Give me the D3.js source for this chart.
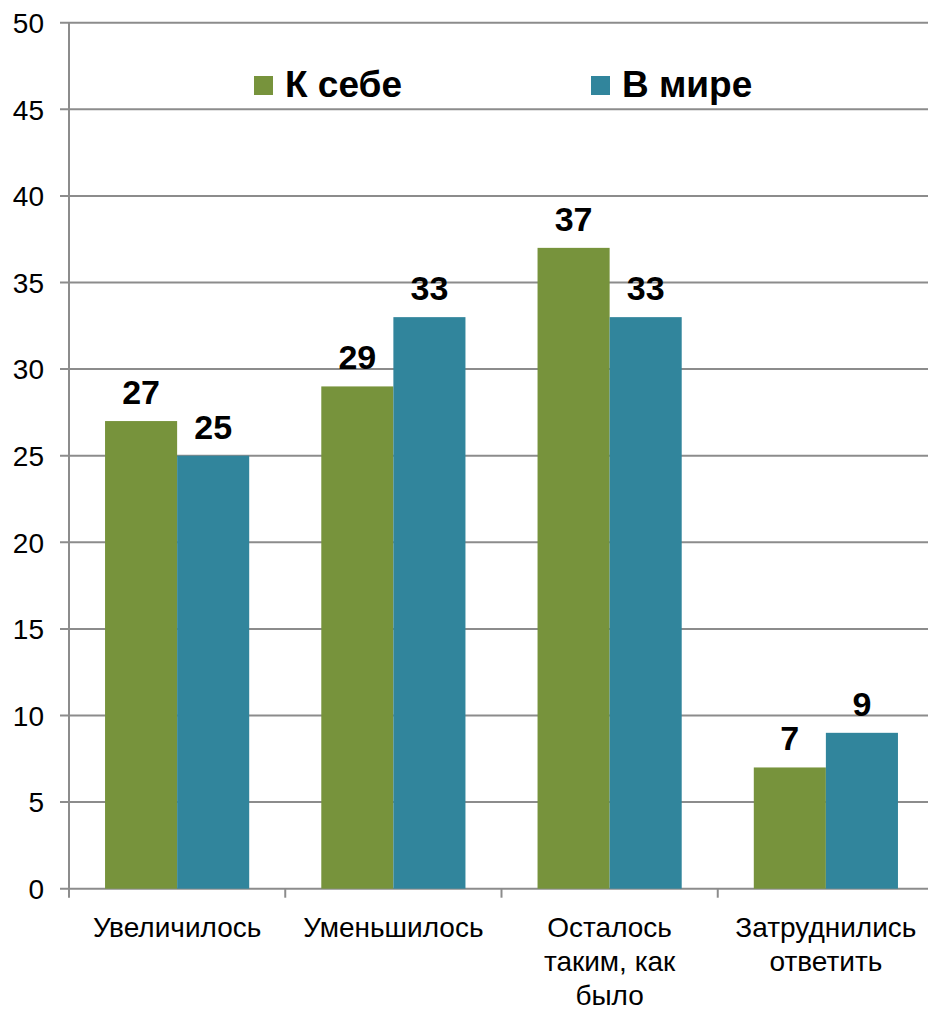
<!doctype html>
<html>
<head>
  <meta charset="utf-8">
  <script src="https://cdnjs.cloudflare.com/ajax/libs/d3/7.8.5/d3.min.js"></script>
  <style>
    body { margin: 0; background: #fff; }
    svg { display: block; font-family: "Liberation Sans", Arial, sans-serif; }
  </style>
</head>
<body>
  <svg id="chart" width="928" height="1010"></svg>
  <script>
    var categories = ["Увеличилось", "Уменьшилось", "Осталось\nтаким, как\nбыло", "Затруднились\nответить"];
    var series = ["К себе", "В мире"];
    var selfValues = [27, 29, 37, 7];
    var worldValues = [25, 33, 33, 9];
    var yTicks = [0, 5, 10, 15, 20, 25, 30, 35, 40, 45, 50];
    var colors = ["#77933c", "#31859c"];

    var svg = d3.select("#chart");
    var plotLeft = 69, plotRight = 934, plotTop = 22.7, plotBottom = 888.7;

    var x0 = d3.scaleBand().domain(categories).range([plotLeft, plotRight]).padding(0);
    var x1 = d3.scaleBand().domain(series).range([0, x0.bandwidth()]).paddingInner(0).paddingOuter(0.5);
    var y = d3.scaleLinear().domain([0, 50]).range([plotBottom, plotTop]);

    var rows = categories.map((c, i) => ({cat: c, vals: [selfValues[i], worldValues[i]]}));

    // grid lines + y ticks
    svg.append("g")
      .selectAll("line")
      .data(yTicks)
      .enter().append("line")
      .attr("x1", plotLeft - 9).attr("x2", plotRight)
      .attr("y1", d => y(d)).attr("y2", d => y(d))
      .attr("stroke", "#8c8c8c").attr("stroke-width", 2);

    svg.append("g")
      .selectAll("text")
      .data(yTicks)
      .enter().append("text")
      .attr("x", 44).attr("y", d => y(d))
      .attr("dy", "0.37em")
      .attr("text-anchor", "end")
      .style("font-size", "28px")
      .text(d => d);

    // bars
    var groups = svg.append("g")
      .selectAll("g")
      .data(rows)
      .enter().append("g")
      .attr("transform", d => `translate(${x0(d.cat)},0)`);

    groups.selectAll("rect")
      .data(d => d.vals.map((v, j) => ({s: series[j], v: v, j: j})))
      .enter().append("rect")
      .attr("x", d => x1(d.s))
      .attr("width", x1.bandwidth())
      .attr("y", d => y(d.v))
      .attr("height", d => plotBottom - y(d.v))
      .attr("fill", d => colors[d.j]);

    groups.selectAll("text")
      .data(d => d.vals.map((v, j) => ({s: series[j], v: v})))
      .enter().append("text")
      .attr("x", d => x1(d.s) + x1.bandwidth() / 2)
      .attr("y", d => y(d.v) - 17)
      .attr("text-anchor", "middle")
      .style("font-size", "34px")
      .style("font-weight", "bold")
      .text(d => d.v);

    // axis lines
    svg.append("line")
      .attr("x1", plotLeft).attr("x2", plotLeft).attr("y1", plotTop).attr("y2", plotBottom + 9)
      .attr("stroke", "#8c8c8c").attr("stroke-width", 2);

    svg.append("g")
      .selectAll("line")
      .data(categories.slice(1))
      .enter().append("line")
      .attr("x1", d => x0(d)).attr("x2", d => x0(d))
      .attr("y1", plotBottom).attr("y2", plotBottom + 9)
      .attr("stroke", "#8c8c8c").attr("stroke-width", 2);

    // category labels
    svg.append("g")
      .selectAll("text")
      .data(categories)
      .enter().append("text")
      .attr("x", d => x0(d) + x0.bandwidth() / 2)
      .attr("y", 937)
      .attr("text-anchor", "middle")
      .style("font-size", "28px")
      .each(function(d) {
        var t = d3.select(this);
        d.split("\n").forEach((line, i) => {
          t.append("tspan")
            .attr("x", x0(d) + x0.bandwidth() / 2)
            .attr("dy", i ? 34 : 0)
            .text(line);
        });
      });

    // legend
    var legendX = [254, 591];
    var legend = svg.append("g")
      .selectAll("g")
      .data(series)
      .enter().append("g")
      .attr("transform", (d, i) => `translate(${legendX[i]},76)`);

    legend.append("rect")
      .attr("width", 19).attr("height", 19)
      .attr("fill", (d, i) => colors[i]);

    legend.append("text")
      .attr("x", 31).attr("y", 21)
      .style("font-size", "37px")
      .style("font-weight", "bold")
      .text(d => d);
  </script>
</body>
</html>
